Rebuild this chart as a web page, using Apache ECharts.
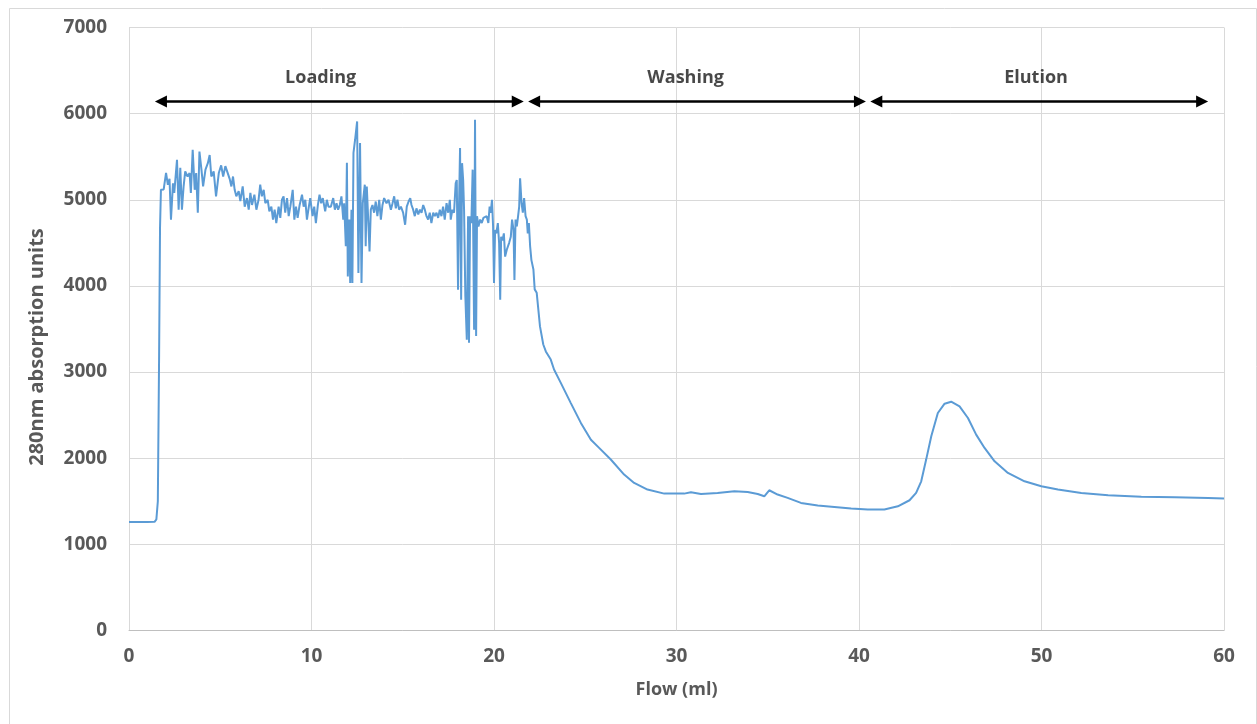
<!DOCTYPE html>
<html>
<head>
<meta charset="utf-8">
<script src="https://cdn.jsdelivr.net/npm/echarts@6/dist/echarts.min.js"></script>
<style>
  html, body { margin: 0; padding: 0; background: #fff; }
  #chart { width: 1257px; height: 724px; }
</style>
</head>
<body>
<div id="chart"></div>
<script>
// flat baseline and the step up when loading starts
const startFlow = [0, 0.5, 1.0, 1.4, 1.5, 1.58, 1.65, 1.7, 1.75];
const startAbs  = [1260, 1260, 1260, 1262, 1290, 1500, 3200, 4675, 5116];

// noisy loading phase
const loadFlow = [
  1.9, 2.03, 2.13, 2.22, 2.3, 2.41, 2.48, 2.63, 2.72, 2.81, 2.9, 2.99, 3.08, 3.21, 3.32, 3.39, 3.49, 3.6, 3.68, 3.77,
  3.86, 3.97, 4.06, 4.19, 4.32, 4.42, 4.51, 4.64, 4.77, 4.92, 5.05, 5.16, 5.28, 5.41, 5.52, 5.61, 5.7, 5.79, 5.88, 6.01,
  6.1, 6.23, 6.34, 6.46, 6.56, 6.65, 6.74, 6.87, 6.98, 7.1, 7.19, 7.28, 7.38, 7.47, 7.6, 7.69, 7.8, 7.89, 7.98, 8.07,
  8.2, 8.29, 8.38, 8.47, 8.56, 8.66, 8.75, 8.84, 8.97, 9.06, 9.15, 9.24, 9.35, 9.48, 9.57, 9.66, 9.75, 9.84, 9.93, 10.06,
  10.15, 10.24, 10.35, 10.44, 10.53, 10.62, 10.75, 10.84, 10.93, 11.06, 11.19, 11.28, 11.37, 11.46, 11.55, 11.64, 11.74, 11.79, 11.88, 11.94,
  11.99, 12.07, 12.12, 12.19, 12.24, 12.3, 12.39, 12.5, 12.57, 12.66, 12.74, 12.81, 12.92, 12.97, 13.03, 13.1, 13.18, 13.25, 13.34, 13.43,
  13.52, 13.61, 13.71, 13.8, 13.89, 13.98, 14.11, 14.22, 14.35, 14.44, 14.53, 14.62, 14.71, 14.8, 14.9, 15.02, 15.13, 15.22, 15.32, 15.41,
  15.48, 15.57, 15.66, 15.75, 15.85, 15.94, 16.03, 16.12, 16.21, 16.3, 16.39, 16.48, 16.57, 16.67, 16.76, 16.85, 16.94, 17.03, 17.12, 17.21,
  17.3, 17.4, 17.49, 17.58, 17.63, 17.72, 17.81, 17.9, 17.96, 18.03, 18.08, 18.14, 18.2, 18.25, 18.31, 18.36, 18.43, 18.51, 18.58, 18.63,
  18.69, 18.76, 18.83, 18.91, 18.96, 19.02, 19.07, 19.15, 19.24, 19.33, 19.42, 19.51, 19.6, 19.69, 19.76, 19.82, 19.89, 19.95, 20.0, 20.06,
  20.13, 20.21, 20.28, 20.34, 20.39, 20.47, 20.54, 20.61, 20.7, 20.83, 20.92, 20.99, 21.07, 21.12, 21.18, 21.25, 21.32, 21.38, 21.43, 21.51,
  21.58, 21.65, 21.73, 21.8, 21.85, 21.91, 21.98
];
const loadAbs = [
  5120, 5313, 5174, 5243, 4768, 5190, 5080, 5464, 4884, 5370, 4884, 5150, 5330, 5270, 5310, 5080, 5580, 5116, 5310, 4850,
  5560, 5350, 5155, 5350, 5425, 5520, 5270, 5330, 5040, 5310, 5400, 5270, 5390, 5310, 5240, 5155, 5270, 5116, 5040, 5100,
  4985, 5155, 4920, 5020, 4885, 5080, 4940, 5060, 4885, 5000, 5175, 5040, 5116, 4960, 5000, 4865, 4920, 4770, 4885, 4730,
  4920, 4790, 5000, 5040, 4850, 5020, 4810, 4920, 5116, 4770, 4920, 4790, 4940, 5060, 4920, 5000, 4770, 4900, 5020, 4810,
  4920, 4730, 4940, 5060, 4960, 5020, 4865, 5000, 4920, 4920, 5020, 4885, 4960, 4885, 4940, 5040, 4770, 4960, 4460, 5430,
  4110, 4770, 4035, 4885, 4035, 5545, 5700, 5910, 4150, 5660, 4035, 4960, 5175, 4460, 5155, 4810, 4400, 4885, 4940, 4850,
  4980, 4810, 5000, 4770, 4940, 5020, 4960, 5000, 4885, 4960, 5040, 4900, 5000, 4885, 4920, 4850, 4710, 4920, 4980, 5020,
  4940, 4885, 4810, 4900, 4830, 4885, 4850, 4940, 4885, 4810, 4770, 4850, 4730, 4850, 4810, 4850, 4790, 4885, 4810, 4920,
  4770, 4960, 4850, 5000, 4770, 4885, 4850, 5190, 5230, 3955, 4885, 5600, 3840, 5425, 5230, 4885, 3880, 3375, 4810, 3340,
  4810, 4730, 5350, 3490, 5930, 3420, 4810, 4690, 4770, 4730, 4790, 4770, 4810, 4730, 4920, 4850, 5000, 4690, 4035, 4650,
  4610, 4730, 4500, 3840, 4570, 4530, 4610, 4340, 4420, 4500, 4570, 4770, 4650, 4070, 4770, 4690, 4810, 4920, 5250, 4960,
  4850, 5020, 4810, 4770, 4610, 4730, 4460
];

// washing: fall back to the baseline
const washFlow = [
  22.05, 22.13, 22.16, 22.23, 22.34, 22.52, 22.7, 22.84, 23.11, 23.29, 23.66, 24.21, 24.76, 25.31, 25.76, 26.4, 27.13, 27.68, 28.41, 29.33,
  30.42, 30.79, 31.34, 32.25, 33.17, 33.9, 34.45, 34.81, 35.08, 35.54, 36.09, 36.82, 37.74, 38.65, 39.57, 40.48
];
const washAbs = [
  4300, 4300, 4190, 3960, 3920, 3530, 3320, 3240, 3145, 3030, 2875, 2640, 2410, 2215, 2120, 1985, 1810, 1713, 1636, 1589,
  1589, 1605, 1585, 1597, 1616, 1608, 1585, 1558, 1628, 1578, 1540, 1481, 1450, 1435, 1415, 1404
];

// elution peak and tail
const eluteFlow = [
  41.39, 42.13, 42.77, 43.13, 43.41, 43.68, 43.96, 44.32, 44.69, 45.05, 45.51, 45.97, 46.42, 46.88, 47.43, 48.16, 49.07, 49.99, 50.9, 52.18,
  53.65, 55.47, 57.3, 59.13, 60
];
const eluteAbs = [
  1404, 1442, 1512, 1597, 1732, 1984, 2254, 2525, 2633, 2656, 2602, 2467, 2274, 2119, 1964, 1829, 1732, 1674, 1636, 1597,
  1570, 1554, 1546, 1539, 1531
];

// phase arrows along the top
const phaseNames = ['Loading', 'Washing', 'Elution'];
const phaseFrom = [1.75, 22.2, 40.95];
const phaseTo = [21.3, 40.05, 58.8];
const phaseLabelX = [10.5, 30.5, 49.7];
const arrowLevel = 6140;
const labelLevel = 6410;

const flow = [].concat(startFlow, loadFlow, washFlow, eluteFlow);
const absorb = [].concat(startAbs, loadAbs, washAbs, eluteAbs);
const traceData = flow.map((x, i) => [x, absorb[i]]);

const arrowLines = phaseFrom.map((x, i) => [
  { coord: [x, arrowLevel] },
  { coord: [phaseTo[i], arrowLevel] }
]);
const phaseLabels = phaseNames.map((name, i) => [phaseLabelX[i], labelLevel, name]);

const tickFont = {
  color: '#595959',
  fontFamily: 'Open Sans',
  fontWeight: 'bold',
  fontSize: 19
};

let myChart = echarts.init(document.getElementById('chart'));

myChart.setOption({
  animation: false,
  backgroundColor: '#fff',
  graphic: [{
    type: 'rect',
    left: 7,
    top: 6,
    shape: { width: 1247, height: 730 },
    style: { fill: 'none', stroke: '#d9d9d9', lineWidth: 1 },
    silent: true
  }],
  grid: {
    left: 129,
    right: 33,
    top: 27.5,
    bottom: 93.5
  },
  xAxis: {
    type: 'value',
    min: 0,
    max: 60,
    interval: 10,
    name: 'Flow (ml)',
    nameLocation: 'middle',
    nameGap: 50,
    nameTextStyle: {
      color: '#595959',
      fontFamily: 'Open Sans',
      fontWeight: 'bold',
      fontSize: 18
    },
    axisLine: { lineStyle: { color: '#bfbfbf', width: 1 } },
    axisTick: { show: false },
    axisLabel: Object.assign({ margin: 17 }, tickFont),
    splitLine: { lineStyle: { color: '#d9d9d9', width: 1 } }
  },
  yAxis: {
    type: 'value',
    min: 0,
    max: 7000,
    interval: 1000,
    name: '280nm absorption units',
    nameLocation: 'middle',
    nameGap: 82,
    nameTextStyle: {
      color: '#595959',
      fontFamily: 'Open Sans',
      fontWeight: 'bold',
      fontSize: 20,
      // push the title a little below the axis middle, as in the original
      padding: [0, 36, 0, 0]
    },
    axisLine: { show: false },
    axisTick: { show: false },
    axisLabel: Object.assign({ margin: 22, formatter: v => String(v) }, tickFont),
    splitLine: { lineStyle: { color: '#d9d9d9', width: 1 } }
  },
  series: [
    {
      name: 'A280',
      type: 'line',
      data: traceData,
      showSymbol: false,
      symbol: 'none',
      lineStyle: { color: '#5b9bd5', width: 2 },
      markLine: {
        silent: true,
        symbol: ['triangle', 'triangle'],
        symbolSize: [12, 12],
        label: { show: false },
        lineStyle: { color: '#000', width: 2.5, type: 'solid' },
        itemStyle: { color: '#000' },
        emphasis: { disabled: true },
        data: arrowLines
      }
    },
    {
      name: 'phases',
      type: 'scatter',
      silent: true,
      symbolSize: 0,
      data: phaseLabels,
      label: {
        show: true,
        position: 'inside',
        formatter: p => p.value[2],
        color: '#1a1a1a',
        fontFamily: 'Open Sans',
        fontWeight: 'bold',
        fontSize: 18
      }
    }
  ]
});
</script>
</body>
</html>
